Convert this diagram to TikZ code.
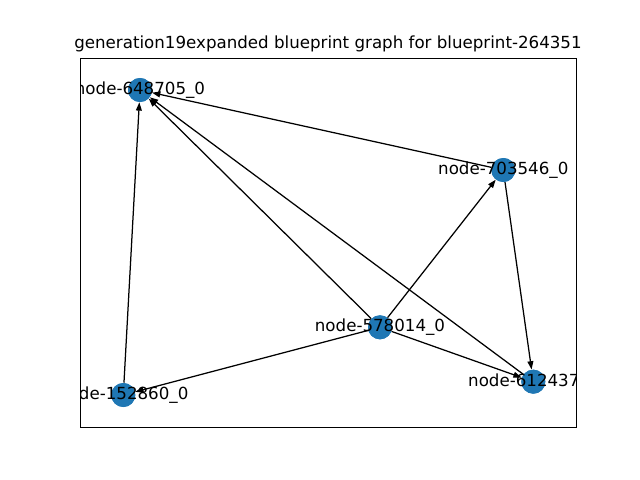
\documentclass[tikz,border=0pt]{standalone}
\usepackage{fontspec}
\setmainfont{DejaVu Sans}
\usetikzlibrary{arrows.meta}
\definecolor{nodeblue}{HTML}{1F77B4}
\begin{document}
\begin{tikzpicture}[x=0.72pt,y=-0.72pt,
  vertex/.style={circle,fill=nodeblue,draw=none,inner sep=0pt,minimum size=17.3pt},
  vlabel/.style={font=\fontsize{12pt}{14pt}\selectfont,inner sep=0pt,text=black},
  edge/.style={draw=black,line width=0.9pt,-{Triangle[length=6pt,width=4.2pt]}}]
  \useasboundingbox (0,0) rectangle (640,480);
  % title
  \node[vlabel] (title) at (328,44) {generation19expanded blueprint graph for blueprint-264351};
  % vertices
  \begin{scope}
    \clip (80,58) rectangle (576,427);
    \node[vertex] (n648) at (140,90) {};
    \node[vertex] (n703) at (503.3,170) {};
    \node[vertex] (n578) at (380,327.3) {};
    \node[vertex] (n152) at (123.3,395) {};
    \node[vertex] (n612) at (533.3,381.7) {};
    % connectors
    \draw[edge] (n578) -- (n648);
    \draw[edge] (n578) -- (n703);
    \draw[edge] (n578) -- (n152);
    \draw[edge] (n578) -- (n612);
    \draw[edge] (n703) -- (n648);
    \draw[edge] (n703) -- (n612);
    \draw[edge] (n152) -- (n648);
    \draw[edge] (n612) -- (n648);
    % redraw discs above the connectors
    \fill[nodeblue] (n648) circle (12);
    \fill[nodeblue] (n703) circle (12);
    \fill[nodeblue] (n578) circle (12);
    \fill[nodeblue] (n152) circle (12);
    \fill[nodeblue] (n612) circle (12);
    % labels
    \node[vlabel] (l648) at (n648) {node-648705\_0};
    \node[vlabel] (l703) at (n703) {node-703546\_0};
    \node[vlabel] (l578) at (n578) {node-578014\_0};
    \node[vlabel] (l152) at (n152) {node-152860\_0};
    \node[vlabel] (l612) at (n612) {node-612437\_0};
  \end{scope}
  % axes frame
  \draw[black,line width=0.6pt] (80,58) rectangle (576,427);
\end{tikzpicture}
\end{document}
